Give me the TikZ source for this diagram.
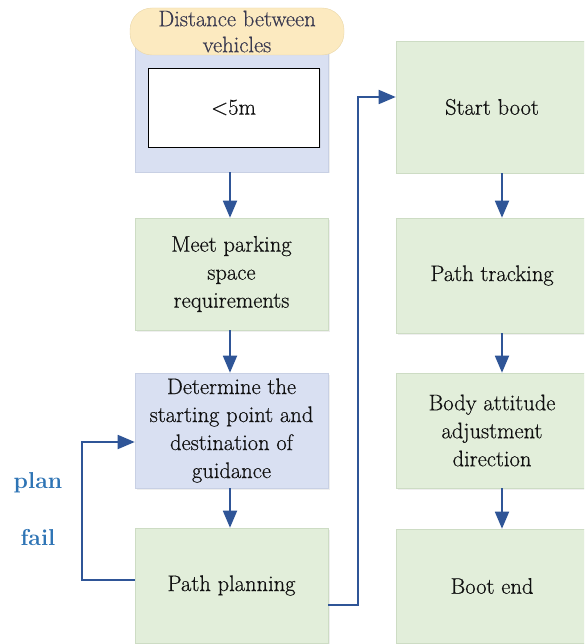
\documentclass[tikz,border=0pt]{standalone}
\usepackage{fontspec}
\newfontfamily\tnr{Latin Modern Roman}[FakeBold=0.5]
\newfontfamily\tnrlab{Latin Modern Roman}
\usetikzlibrary{arrows.meta,shadows}
\definecolor{gfill}{HTML}{E2EEDA}
\definecolor{gline}{HTML}{CDDCC4}
\definecolor{bfill}{HTML}{D9E0F2}
\definecolor{bline}{HTML}{C8D0E4}
\definecolor{yfill}{HTML}{FCEAC0}
\definecolor{yline}{HTML}{EAD7A8}
\definecolor{arr}{HTML}{2F5597}
\definecolor{lbl}{HTML}{2E74B5}
\definecolor{txt}{HTML}{111111}
\definecolor{pilltxt}{HTML}{3A3A50}
\begin{document}
\begin{tikzpicture}[x=1pt,y=-1pt,
  font=\tnr\fontsize{22.5}{28}\selectfont,
  gbox/.style={draw=gline, line width=0.6pt, fill=gfill, text=txt, align=center,
    minimum width=192pt, inner sep=2pt,
    drop shadow={opacity=0.12, shadow xshift=1.5pt, shadow yshift=-1.5pt}},
  bbox/.style={gbox, draw=bline, fill=bfill},
  flow/.style={draw=arr, line width=1.8pt, -{Triangle[length=17pt,width=14pt]}},
  lab/.style={text=lbl, font=\tnrlab\fontsize{23}{28}\selectfont\bfseries}
]
\clip (0,0) rectangle (584,644);
\fill[white] (0,0) rectangle (584,644);

% left column
\node[bbox, minimum width=193pt, minimum height=142pt] (cont) at (231.5,101) {};
\node[draw=yline, fill=yfill, rounded corners=22pt, minimum width=214pt, minimum height=47pt,
  inner sep=0pt, align=center, text=pilltxt, font=\tnr\fontsize{22.5}{26}\selectfont] (pill) at (237,31.5)
  {Distance between\\vehicles};
\node[draw=black, line width=0.8pt, fill=white, minimum width=171pt, minimum height=79pt, text=txt,
  drop shadow={opacity=0.15, shadow xshift=1.5pt, shadow yshift=-1.5pt}] (dist) at (233.5,107.5) {<5m};
\node[gbox, minimum width=193pt, minimum height=112pt] (meet) at (231.5,274) {Meet parking\\space\\requirements};
\node[bbox, minimum width=193pt, minimum height=115pt] (det) at (231.5,430.5) {Determine the\\starting point and\\destination of\\guidance};
\node[gbox, minimum width=193pt, minimum height=115pt] (pp) at (231.5,585.5) {Path planning};

% right column
\node[gbox, minimum height=132pt] (sb) at (492,107) {Start boot};
\node[gbox, minimum height=115pt] (pt) at (492,275.5) {Path tracking};
\node[gbox, minimum height=115pt] (ba) at (492,430.5) {Body attitude\\adjustment\\direction};
\node[gbox, minimum height=114pt] (be) at (492,586) {Boot end};

% labels
\node[lab] (plan) at (38,483) {plan};
\node[lab] (fail) at (38,538) {fail};

% connectors
\draw[flow] ([xshift=-1.5pt]cont.south) -- ([xshift=-1.5pt]meet.north);
\draw[flow] ([xshift=-1.5pt]meet.south) -- ([xshift=-1.5pt]det.north);
\draw[flow] ([xshift=-1.5pt]det.south) -- ([xshift=-1.5pt]pp.north);
\coordinate (fb) at (82,580);
\draw[flow] ([yshift=5.5pt]pp.west) -- (fb) |- ([yshift=-11.5pt]det.west);
\coordinate (up) at (358,605);
\draw[flow] ([yshift=-19.5pt]pp.east) -- (up) |- ([yshift=10pt]sb.west);
\draw[flow] ([xshift=10pt]sb.south) -- ([xshift=10pt]pt.north);
\draw[flow] ([xshift=10pt]pt.south) -- ([xshift=10pt]ba.north);
\draw[flow] ([xshift=10pt]ba.south) -- ([xshift=10pt]be.north);
\end{tikzpicture}
\end{document}
